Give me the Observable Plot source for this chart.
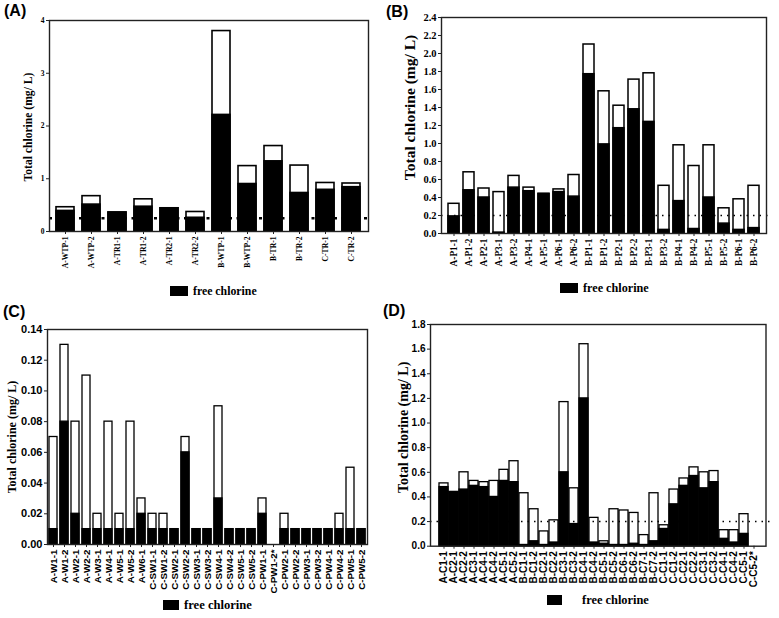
<!DOCTYPE html>
<html><head><meta charset="utf-8">
<script src="https://cdn.jsdelivr.net/npm/d3@7"></script>
<script src="https://cdn.jsdelivr.net/npm/@observablehq/plot@0.6"></script>
<style>
body{margin:0;background:#fff;}
#root{position:relative;width:779px;height:618px;overflow:hidden;background:#fff;}
.panel{position:absolute;}
.plabel{position:absolute;font-family:"Liberation Sans",Arial,sans-serif;font-weight:bold;font-size:16px;line-height:16px;color:#000;}
.legend{position:absolute;font-family:"Liberation Serif","Times New Roman",serif;font-weight:bold;color:#000;display:flex;align-items:center;white-space:nowrap;}
.legend .sw{display:inline-block;background:#000;}
</style></head>
<body><div id="root"></div>
<script>
// ---------- Data ----------
const catsA = ["A-WTP-1","A-WTP-2","A-TR1-1","A-TR1-2","A-TR2-1","A-TR2-2","B-WTP-1","B-WTP-2","B-TR-1","B-TR-2","C-TR-1","C-TR-2"];
const totalA = [0.46,0.67,0.36,0.61,0.44,0.37,3.80,1.24,1.62,1.25,0.92,0.91];
const freeA  = [0.39,0.51,0.36,0.47,0.44,0.26,2.21,0.90,1.33,0.73,0.79,0.84];
const ticksA = [0,1,2,3,4];

const catsB = ["A-P1-1","A-P1-2","A-P2-1","A-P3-1","A-P3-2","A-P4-1","A-P5-1","A-P6-1","A-P6-2","B-P1-1","B-P1-2","B-P2-1","B-P2-2","B-P3-1","B-P3-2","B-P4-1","B-P4-2","B-P5-1","B-P5-2","B-P6-1","B-P6-2"];
const totalB = [0.33,0.68,0.50,0.46,0.64,0.51,0.44,0.49,0.65,2.10,1.58,1.42,1.71,1.78,0.53,0.98,0.75,0.98,0.28,0.38,0.53];
const freeB  = [0.19,0.48,0.40,0.01,0.51,0.47,0.44,0.46,0.41,1.77,0.99,1.17,1.38,1.24,0.04,0.36,0.05,0.40,0.11,0.04,0.06];
const ticksB = [0,0.2,0.4,0.6,0.8,1.0,1.2,1.4,1.6,1.8,2.0,2.2,2.4];

const catsC = ["A-W1-1","A-W1-2","A-W2-1","A-W2-2","A-W3-1","A-W4-1","A-W5-1","A-W5-2","A-W6-1","C-SW1-1","C-SW1-2","C-SW2-1","C-SW2-2","C-SW3-1","C-SW3-2","C-SW4-1","C-SW4-2","C-SW5-1","C-SW5-2","C-PW1-1","C-PW1-2*","C-PW2-1","C-PW2-2","C-PW3-1","C-PW3-2","C-PW4-1","C-PW4-2","C-PW5-1","C-PW5-2"];
const totalC = [0.07,0.13,0.08,0.11,0.02,0.08,0.02,0.08,0.03,0.02,0.02,0.01,0.07,0.01,0.01,0.09,0.01,0.01,0.01,0.03,0,0.02,0.01,0.01,0.01,0.01,0.02,0.05,0.01];
const freeC  = [0.01,0.08,0.02,0.01,0.01,0.01,0.01,0.01,0.02,0.01,0.01,0.01,0.06,0.01,0.01,0.03,0.01,0.01,0.01,0.02,0,0.01,0.01,0.01,0.01,0.01,0.01,0.01,0.01];
const ticksC = [0,0.02,0.04,0.06,0.08,0.10,0.12,0.14];

const catsD = ["A-C1-1","A-C2-1","A-C2-2","A-C3-1","A-C4-1","A-C4-2","A-C5-1","A-C5-2","B-C1-1","B-C1-2","B-C2-1","B-C2-2","B-C3-1","B-C3-2","B-C4-1","B-C4-2","B-C5-1","B-C5-2","B-C6-1","B-C6-2","B-C7-1","B-C7-2","C-C1-1","C-C1-2","C-C2-1","C-C2-2","C-C3-1","C-C3-2","C-C4-1","C-C4-2","C-C5-1","C-C5-2*"];
const totalD = [0.51,0.44,0.60,0.53,0.52,0.53,0.62,0.69,0.43,0.30,0.12,0.21,1.17,0.47,1.64,0.23,0.04,0.30,0.29,0.27,0.09,0.43,0.17,0.46,0.55,0.64,0.60,0.61,0.13,0.13,0.26,0];
const freeD  = [0.48,0.44,0.46,0.49,0.48,0.40,0.53,0.52,0.01,0.04,0.01,0.03,0.60,0.18,1.20,0.03,0.02,0.01,0.01,0.02,0.01,0.04,0.14,0.34,0.49,0.57,0.47,0.52,0.06,0.03,0.10,0];
const ticksD = [0,0.2,0.4,0.6,0.8,1.0,1.2,1.4,1.6,1.8];

const yLabel = "Total chlorine (mg/ L)";
const legendLabel = "free chlorine";
const panelLabels = ["(A)","(B)","(C)","(D)"];
const limitA = 0.25, limitB = 0.2, limitD = 0.2;

// ---------- Rendering ----------
const SERIF = '"Liberation Serif","Times New Roman",serif';
const SANS = '"Liberation Sans",Arial,sans-serif';
const root = document.getElementById("root");

function panel(cfg) {
  const data = cfg.cats.map((c, i) => ({cat: c, total: cfg.total[i], free: cfg.free[i]}));
  const nz = data.filter(d => d.total > 0);
  const marks = [
    Plot.barY(nz, {x: "cat", y: "total", fill: "white", stroke: "black", strokeWidth: cfg.bw}),
    Plot.barY(nz.filter(d => d.free > 0), {x: "cat", y: "free", fill: "black", stroke: "black", strokeWidth: cfg.bw})
  ];
  if (cfg.limit != null) {
    marks.push(Plot.ruleY([cfg.limit], {stroke: "black", strokeWidth: cfg.dotW, strokeDasharray: cfg.dash, insetRight: cfg.ext || 0}));
  }
  marks.push(Plot.frame({stroke: "#222", strokeWidth: 1.4}));
  marks.push(Plot.axisY({ticks: cfg.yticks, tickFormat: cfg.yfmt, tickSize: 3, tickPadding: 2,
    fontSize: cfg.ytfs, fontFamily: cfg.ytff, fontWeight: "bold", label: null, stroke: "#222"}));
  marks.push(Plot.axisX({tickRotate: -90, tickSize: 3, tickPadding: 2,
    fontSize: cfg.xtfs, fontFamily: cfg.xtff, fontWeight: "bold", label: null, stroke: "#222"}));
  marks.push(Plot.text([cfg.ylabel], {text: d => d, frameAnchor: "left", textAnchor: "middle", lineAnchor: "middle",
    rotate: -90, dx: cfg.ldx, dy: cfg.ldy,
    fontSize: cfg.lfs, fontFamily: SERIF, fontWeight: "bold", fill: "black"}));
  const svg = Plot.plot({
    width: cfg.w, height: cfg.h,
    marginLeft: cfg.ml, marginRight: cfg.mr, marginTop: cfg.mt, marginBottom: cfg.mb,
    x: {type: "band", domain: cfg.cats, paddingInner: cfg.pi, paddingOuter: cfg.po, label: null},
    y: {domain: [0, cfg.ymax], label: null},
    style: {background: "transparent", color: "black", overflow: "visible"},
    marks
  });
  const div = document.createElement("div");
  div.className = "panel";
  div.style.left = cfg.left + "px";
  div.style.top = cfg.top + "px";
  div.appendChild(svg);
  root.appendChild(div);

  const lab = document.createElement("div");
  lab.className = "plabel";
  lab.style.left = cfg.plx + "px";
  lab.style.top = cfg.ply + "px";
  lab.textContent = cfg.plabel;
  root.appendChild(lab);

  const lg = document.createElement("div");
  lg.className = "legend";
  lg.style.left = cfg.lgx + "px";
  lg.style.top = cfg.lgy + "px";
  lg.style.fontSize = cfg.lgfs + "px";
  lg.style.height = cfg.lgh + "px";
  const sw = document.createElement("span");
  sw.className = "sw";
  sw.style.width = cfg.sww + "px";
  sw.style.height = cfg.lgh + "px";
  sw.style.marginRight = cfg.swgap + "px";
  lg.appendChild(sw);
  const tx = document.createElement("span");
  tx.textContent = legendLabel;
  lg.appendChild(tx);
  root.appendChild(lg);
}

panel({cats: catsA, total: totalA, free: freeA, yticks: ticksA, yfmt: d3.format("d"), ymax: 4,
  left: 0, top: 0, w: 390, h: 275, ml: 49, mr: 22, mt: 20, mb: 44, pi: 0.3, po: 0.2,
  bw: 1.6, limit: limitA, dotW: 2.6, dash: "3,4.5",
  ytfs: 7.5, ytff: SERIF, xtfs: 7.6, xtff: SERIF, lfs: 11.6, ldx: -21, ldy: 1, ylabel: yLabel,
  plabel: panelLabels[0], plx: 4, ply: 3,
  lgx: 170, lgy: 286, lgh: 10, sww: 18, swgap: 5, lgfs: 11.8});

panel({cats: catsB, total: totalB, free: freeB, yticks: ticksB, yfmt: d3.format(".1f"), ymax: 2.4,
  left: 390, top: 0, w: 389, h: 275, ml: 51, mr: 13, mt: 17, mb: 42, pi: 0.3, po: 0.2,
  bw: 1.5, limit: limitB, dotW: 1.5, dash: "1.5,5", ext: -4,
  ytfs: 10.5, ytff: SERIF, xtfs: 9.3, xtff: SERIF, lfs: 15.5, ldx: -31, ldy: -18, ylabel: yLabel,
  plabel: panelLabels[1], plx: 386, ply: 4,
  lgx: 560, lgy: 283, lgh: 10, sww: 18, swgap: 5, lgfs: 12.2});

panel({cats: catsC, total: totalC, free: freeC, yticks: ticksC, yfmt: d3.format(".2f"), ymax: 0.14,
  left: 0, top: 300, w: 390, h: 295, ml: 47, mr: 23, mt: 29, mb: 51, pi: 0.28, po: 0.08,
  bw: 1.3, limit: null,
  ytfs: 11, ytff: SANS, xtfs: 9.8, xtff: SANS, lfs: 12, ldx: -35, ldy: 0, ylabel: yLabel,
  plabel: panelLabels[2], plx: 3, ply: 304,
  lgx: 163, lgy: 600, lgh: 10, sww: 16, swgap: 5, lgfs: 12.6});

panel({cats: catsD, total: totalD, free: freeD, yticks: ticksD, yfmt: d3.format(".1f"), ymax: 1.8,
  left: 390, top: 300, w: 389, h: 290, ml: 40, mr: 13.5, mt: 24, mb: 44.3, pi: 0.15, po: 0.08,
  bw: 1.3, limit: limitD, dotW: 1.5, dash: "1.5,5", ext: -5,
  ytfs: 10, ytff: SANS, xtfs: 10, xtff: SANS, lfs: 14, ldx: -27, ldy: -8, ylabel: yLabel,
  plabel: panelLabels[3], plx: 383, ply: 303,
  lgx: 547, lgy: 595, lgh: 10, sww: 15, swgap: 20, lgfs: 12.4});
</script>
</body></html>
